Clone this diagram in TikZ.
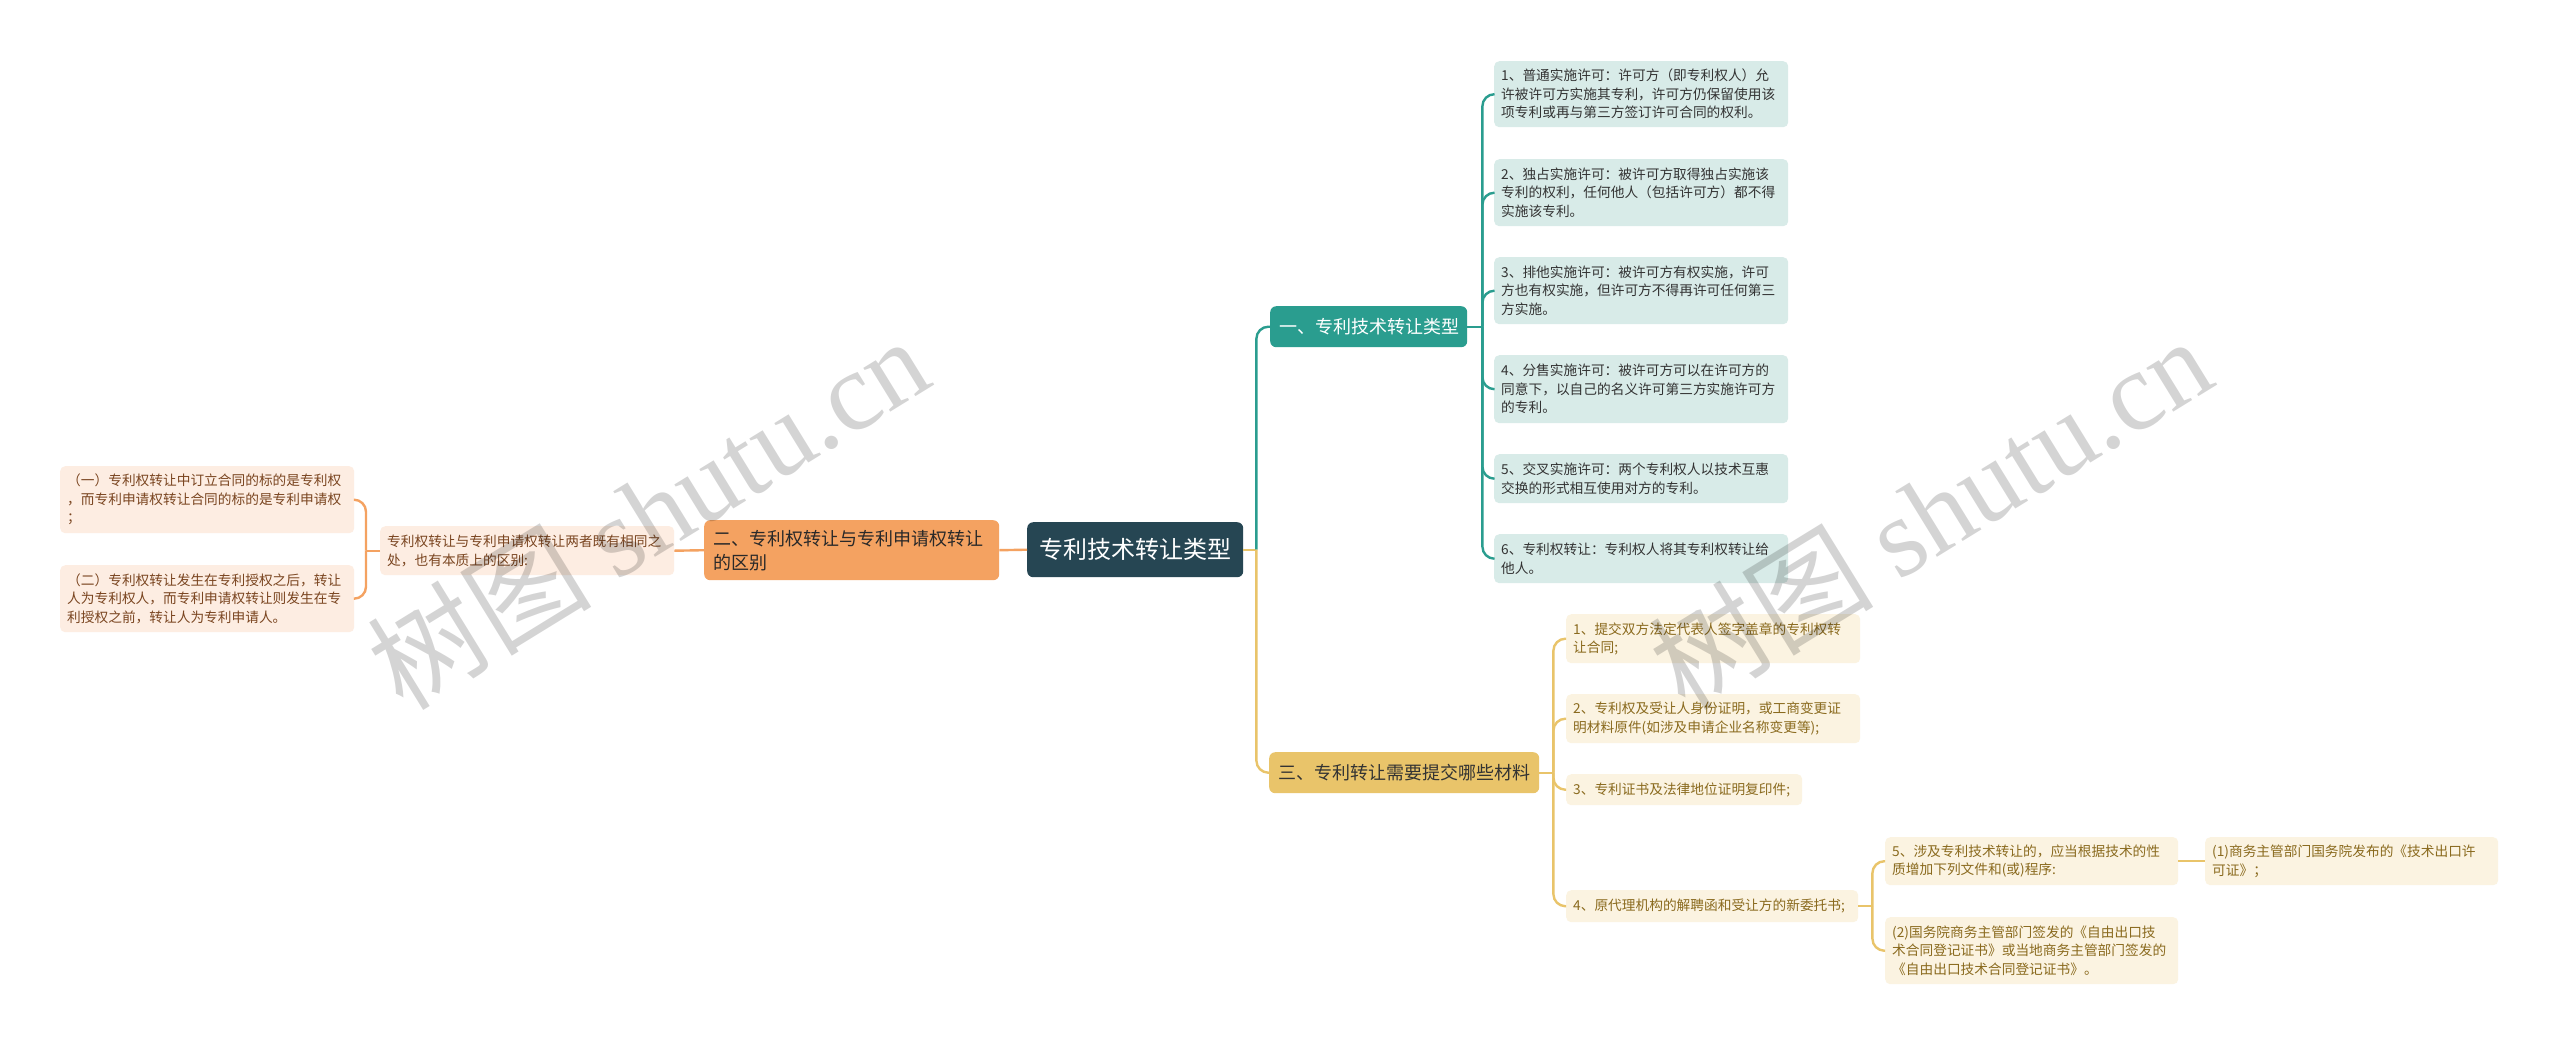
\documentclass[tikz,border=0pt]{standalone}
\usepackage{fontspec}
\newfontfamily\cjk{Noto Sans CJK SC}
\newfontfamily\wmserif{Liberation Serif}
\definecolor{cRoot}{HTML}{264653}
\definecolor{cTeal}{HTML}{2A9D8F}
\definecolor{cTealL}{HTML}{D8EBE8}
\definecolor{cOr}{HTML}{F4A261}
\definecolor{cOrL}{HTML}{FDEDE2}
\definecolor{cYe}{HTML}{E9C46A}
\definecolor{cYeL}{HTML}{FBF3E1}
\definecolor{cYeT}{HTML}{8A6A1E}
\definecolor{cOrT}{HTML}{7A4520}
\definecolor{cTxt}{HTML}{333333}
\tikzset{
  box/.style={rounded corners=5pt, inner ysep=0pt, inner xsep=7pt, align=left, anchor=north west,
    font=\cjk\fontsize{13.7}{18.5}\selectfont},
  leafT/.style={box, fill=cTealL, text=cTxt},
  leafY/.style={box, fill=cYeL, text=cYeT},
  leafO/.style={box, fill=cOrL, text=cOrT},
  mainbox/.style={rounded corners=6pt, inner ysep=0pt, inner xsep=9pt, align=left, anchor=north west,
    font=\cjk\fontsize{18}{24}\selectfont},
  lnT/.style={draw=cTeal, line width=2.4pt, rounded corners=12pt},
  lnY/.style={draw=cYe, line width=2.4pt, rounded corners=12pt},
  lnO/.style={draw=cOr, line width=2.4pt, rounded corners=12pt},
  wm/.style={rotate=31.6, text=black, text opacity=0.17, font=\cjk\fontsize{112}{120}\selectfont}
}
\begin{document}
\begin{tikzpicture}[x=1pt,y=-1pt]
\useasboundingbox[fill=white] (0,0) rectangle (2560,1045);

% root
\node[rounded corners=6pt, fill=cRoot, text=white, anchor=north west, minimum width=216pt, minimum height=55pt,
  inner sep=0pt, font=\cjk\fontsize{24}{28}\selectfont] (root) at (1027,522) {专利技术转让类型};

% branches
\node[mainbox, fill=cTeal, text=white, minimum width=197pt, minimum height=41pt, text width=179pt] (b1) at (1270,306) {一、专利技术转让类型};
\node[mainbox, fill=cOr, text=cTxt!80!black, minimum width=295pt, minimum height=60pt, text width=277pt] (b2) at (704,520) {二、专利权转让与专利申请权转让\\的区别};
\node[mainbox, fill=cYe, text=cTxt, minimum width=270pt, minimum height=41pt, text width=252pt] (b3) at (1269,752) {三、专利转让需要提交哪些材料};

% teal leaves
\node[leafT, minimum width=294pt, minimum height=66pt, text width=280pt] (t1) at (1494,61) {1、普通实施许可：许可方（即专利权人）允\\许被许可方实施其专利，许可方仍保留使用该\\项专利或再与第三方签订许可合同的权利。};
\node[leafT, minimum width=294pt, minimum height=67pt, text width=280pt] (t2) at (1494,159) {2、独占实施许可：被许可方取得独占实施该\\专利的权利，任何他人（包括许可方）都不得\\实施该专利。};
\node[leafT, minimum width=294pt, minimum height=67pt, text width=280pt] (t3) at (1494,257) {3、排他实施许可：被许可方有权实施，许可\\方也有权实施，但许可方不得再许可任何第三\\方实施。};
\node[leafT, minimum width=294pt, minimum height=68pt, text width=280pt] (t4) at (1494,355) {4、分售实施许可：被许可方可以在许可方的\\同意下，以自己的名义许可第三方实施许可方\\的专利。};
\node[leafT, minimum width=294pt, minimum height=49pt, text width=280pt] (t5) at (1494,454) {5、交叉实施许可：两个专利权人以技术互惠\\交换的形式相互使用对方的专利。};
\node[leafT, minimum width=294pt, minimum height=49pt, text width=280pt] (t6) at (1494,534) {6、专利权转让：专利权人将其专利权转让给\\他人。};

% yellow leaves
\node[leafY, minimum width=294pt, minimum height=49pt, text width=280pt] (y1) at (1566,614) {1、提交双方法定代表人签字盖章的专利权转\\让合同;};
\node[leafY, minimum width=294pt, minimum height=49pt, text width=280pt] (y2) at (1566,694) {2、专利权及受让人身份证明，或工商变更证\\明材料原件(如涉及申请企业名称变更等);};
\node[leafY, minimum width=236pt, minimum height=31pt, text width=222pt] (y3) at (1566,774) {3、专利证书及法律地位证明复印件;};
\node[leafY, minimum width=292pt, minimum height=32pt, text width=278pt] (y4) at (1566,890) {4、原代理机构的解聘函和受让方的新委托书;};
\node[leafY, minimum width=293pt, minimum height=48pt, text width=279pt] (s5) at (1885,837) {5、涉及专利技术转让的，应当根据技术的性\\质增加下列文件和(或)程序:};
\node[leafY, minimum width=293pt, minimum height=67pt, text width=279pt] (s2) at (1885,917) {(2)国务院商务主管部门签发的《自由出口技\\术合同登记证书》或当地商务主管部门签发的\\《自由出口技术合同登记证书》。};
\node[leafY, minimum width=293pt, minimum height=48pt, text width=279pt] (s1) at (2205,837) {(1)商务主管部门国务院发布的《技术出口许\\可证》；};

% orange leaves
\node[leafO, minimum width=294pt, minimum height=49pt, text width=280pt] (m) at (380,526) {专利权转让与专利申请权转让两者既有相同之\\处，也有本质上的区别:};
\node[leafO, minimum width=294pt, minimum height=67pt, text width=280pt] (l1) at (60,466) {（一）专利权转让中订立合同的标的是专利权\\，而专利申请权转让合同的标的是专利申请权\\；};
\node[leafO, minimum width=294pt, minimum height=67pt, text width=280pt] (l2) at (60,565) {（二）专利权转让发生在专利授权之后，转让\\人为专利权人，而专利申请权转让则发生在专\\利授权之前，转让人为专利申请人。};

% connectors
\coordinate (j0) at ([xshift=13pt]root.east);
\draw[lnY] (root.east) -- (j0);
\draw[lnT] (j0) |- (b1.west);
\draw[lnY] (j0) |- (b3.west);
\draw[lnO] (root.west) -- (b2.east);

\coordinate (j1) at ([xshift=15pt]b1.east);
\draw[lnT] (b1.east) -- (j1);
\foreach \n in {t1,t2,t3,t4,t5,t6} \draw[lnT] (j1) |- (\n.west);

\coordinate (j3) at ([xshift=14pt]b3.east);
\draw[lnY] (b3.east) -- (j3);
\foreach \n in {y1,y2,y3,y4} \draw[lnY] (j3) |- (\n.west);

\coordinate (j4) at ([xshift=14pt]y4.east);
\draw[lnY] (y4.east) -- (j4);
\foreach \n in {s5,s2} \draw[lnY] (j4) |- (\n.west);
\draw[lnY] (s5.east) -- (s1.west);

\draw[lnO] (b2.west) -- (m.east);
\coordinate (j2) at ([xshift=-14pt]m.west);
\draw[lnO] (m.west) -- (j2);
\foreach \n in {l1,l2} \draw[lnO] (j2) |- (\n.east);

% watermarks
\node[wm] (wm1) at (648,512) {树图 {\wmserif shutu.cn}};
\node[wm] (wm2) at (1930,512) {树图 {\wmserif shutu.cn}};
\end{tikzpicture}
\end{document}
